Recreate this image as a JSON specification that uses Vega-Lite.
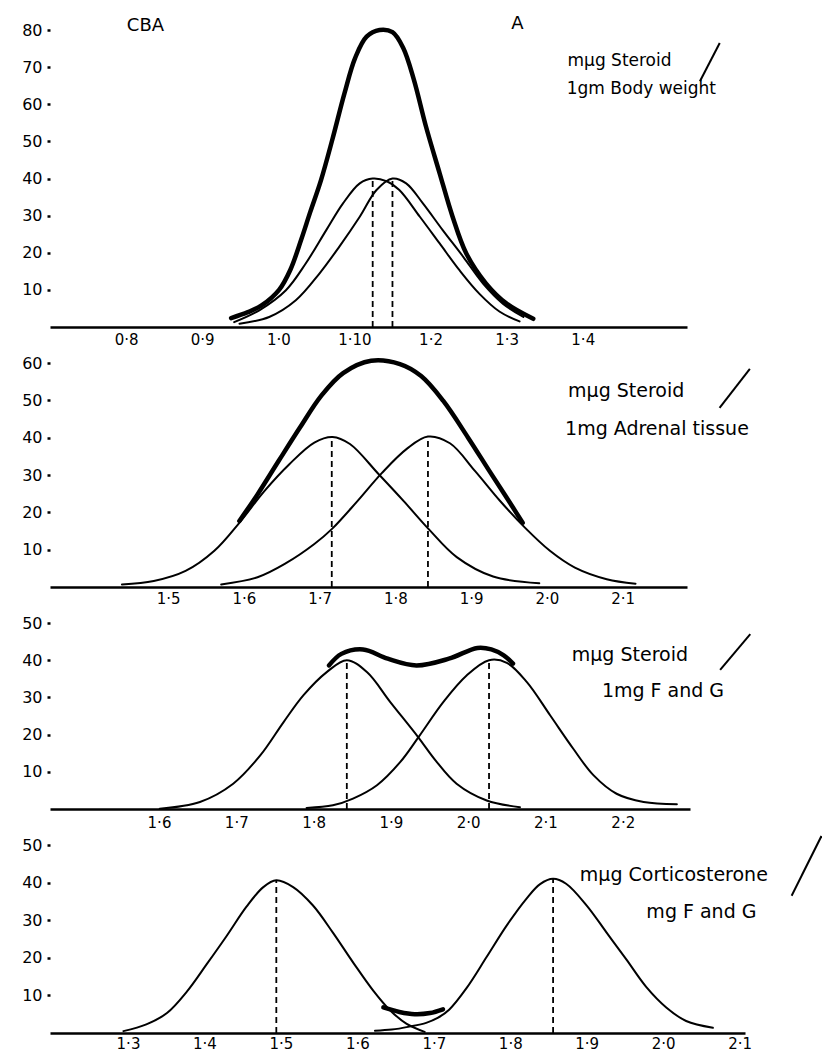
{
  "$schema": "https://vega.github.io/schema/vega-lite/v6.json",
  "padding": {"top": 15, "left": 21, "right": 0, "bottom": 0},
  "background": "white",
  "bounds": "flush",
  "spacing": 36,
  "config": {
    "view": {"stroke": null},
    "font": "DejaVu Sans",
    "axis": {"grid": false, "title": null, "labelColor": "black", "labelFont": "DejaVu Sans"},
    "axisX": {"ticks": false, "domainWidth": 2.5, "domainColor": "black", "labelFontSize": 15, "labelPadding": 6, "labelFlush": false, "labelOverlap": false},
    "axisY": {"domain": false, "ticks": true, "tickSize": 3, "tickWidth": 2.5, "tickColor": "black", "labelFontSize": 16, "labelPadding": 5, "labelOverlap": false}
  },
  "vconcat": [
    {
      "width": 637, "height": 297,
      "encoding": {
        "x": {"field": "x", "type": "quantitative", "scale": {"domain": [0.7, 1.537], "nice": false, "zero": false},
              "axis": {"labelPadding": 5, "values": [0.8, 0.9, 1.0, 1.1, 1.2, 1.3, 1.4], "labelExpr": "abs(datum.value-1.1)<0.001 ? '1·10' : replace(format(datum.value,'.1f'),'.','·')"}},
        "y": {"field": "y", "type": "quantitative", "scale": {"domain": [0, 80], "nice": false},
              "axis": {"values": [10, 20, 30, 40, 50, 60, 70, 80]}}
      },
      "layer": [
        {
          "data": {"values": [
            {"curve": "total", "x": 0.938, "y": 2.4}, {"curve": "total", "x": 0.960, "y": 4.0}, {"curve": "total", "x": 0.978, "y": 5.8}, {"curve": "total", "x": 1.001, "y": 10.0}, {"curve": "total", "x": 1.016, "y": 15.5}, {"curve": "total", "x": 1.030, "y": 23.5}, {"curve": "total", "x": 1.042, "y": 31.0}, {"curve": "total", "x": 1.056, "y": 39.5}, {"curve": "total", "x": 1.071, "y": 50.5}, {"curve": "total", "x": 1.087, "y": 63.0}, {"curve": "total", "x": 1.101, "y": 72.5}, {"curve": "total", "x": 1.116, "y": 78.2}, {"curve": "total", "x": 1.133, "y": 80.0}, {"curve": "total", "x": 1.150, "y": 79.4}, {"curve": "total", "x": 1.164, "y": 75.2}, {"curve": "total", "x": 1.178, "y": 66.7}, {"curve": "total", "x": 1.194, "y": 54.0}, {"curve": "total", "x": 1.212, "y": 41.4}, {"curve": "total", "x": 1.229, "y": 29.7}, {"curve": "total", "x": 1.247, "y": 19.8}, {"curve": "total", "x": 1.273, "y": 11.7}, {"curve": "total", "x": 1.300, "y": 6.3}, {"curve": "total", "x": 1.335, "y": 2.2},
            {"curve": "left", "x": 0.942, "y": 1.3}, {"curve": "left", "x": 0.975, "y": 4.5}, {"curve": "left", "x": 1.010, "y": 9.9}, {"curve": "left", "x": 1.036, "y": 17.1}, {"curve": "left", "x": 1.063, "y": 26.1}, {"curve": "left", "x": 1.085, "y": 33.3}, {"curve": "left", "x": 1.107, "y": 38.7}, {"curve": "left", "x": 1.124, "y": 40.0}, {"curve": "left", "x": 1.142, "y": 39.3}, {"curve": "left", "x": 1.159, "y": 36.9}, {"curve": "left", "x": 1.186, "y": 29.7}, {"curve": "left", "x": 1.212, "y": 22.5}, {"curve": "left", "x": 1.238, "y": 15.3}, {"curve": "left", "x": 1.264, "y": 9.0}, {"curve": "left", "x": 1.291, "y": 4.1}, {"curve": "left", "x": 1.317, "y": 1.5},
            {"curve": "right", "x": 0.949, "y": 0.9}, {"curve": "right", "x": 0.988, "y": 2.7}, {"curve": "right", "x": 1.023, "y": 7.2}, {"curve": "right", "x": 1.054, "y": 14.4}, {"curve": "right", "x": 1.080, "y": 21.6}, {"curve": "right", "x": 1.107, "y": 29.7}, {"curve": "right", "x": 1.129, "y": 36.9}, {"curve": "right", "x": 1.150, "y": 40.0}, {"curve": "right", "x": 1.168, "y": 38.7}, {"curve": "right", "x": 1.190, "y": 33.3}, {"curve": "right", "x": 1.216, "y": 26.1}, {"curve": "right", "x": 1.243, "y": 18.9}, {"curve": "right", "x": 1.269, "y": 11.7}, {"curve": "right", "x": 1.295, "y": 6.3}, {"curve": "right", "x": 1.322, "y": 2.7}
          ]},
          "layer": [
            {"transform": [{"filter": "datum.curve == 'total'"}], "mark": {"type": "line", "interpolate": "catmull-rom", "strokeWidth": 4.5, "color": "black", "strokeCap": "round"}},
            {"transform": [{"filter": "datum.curve != 'total'"}], "mark": {"type": "line", "interpolate": "catmull-rom", "strokeWidth": 2, "color": "black", "strokeCap": "round"}, "encoding": {"detail": {"field": "curve"}}}
          ]
        },
        {
          "data": {"values": [{"x": 1.124, "base": 0, "top": 39.6}, {"x": 1.150, "base": 0, "top": 40.0}]},
          "mark": {"type": "rule", "strokeDash": [6, 4], "strokeWidth": 1.8, "color": "black"},
          "encoding": {"y": {"field": "base", "type": "quantitative"}, "y2": {"field": "top"}}
        },
        {
          "data": {"values": [{"label": "CBA", "x": 0.801, "y": 81.1}, {"label": "A", "x": 1.306, "y": 81.6}]},
          "mark": {"type": "text", "align": "left", "baseline": "middle", "fontSize": 18, "color": "black"},
          "encoding": {"text": {"field": "label"}}
        },
        {
          "data": {"values": [{"label": "mμg  Steroid", "x": 1.380, "y": 71.6}, {"label": "1gm  Body weight", "x": 1.379, "y": 64.0}]},
          "mark": {"type": "text", "align": "left", "baseline": "middle", "fontSize": 17, "color": "black"},
          "encoding": {"text": {"field": "label"}}
        },
        {
          "data": {"values": [{"x": 1.554, "y": 66.2, "xe": 1.580, "ye": 76.5}]},
          "mark": {"type": "rule", "strokeWidth": 2, "color": "black"},
          "encoding": {"x2": {"field": "xe"}, "y2": {"field": "ye"}}
        }
      ]
    },
    {
      "width": 637, "height": 224,
      "encoding": {
        "x": {"field": "x", "type": "quantitative", "scale": {"domain": [1.344, 2.185], "nice": false, "zero": false},
              "axis": {"labelPadding": 4, "values": [1.5, 1.6, 1.7, 1.8, 1.9, 2.0, 2.1], "labelExpr": "replace(format(datum.value,'.1f'),'.','·')"}},
        "y": {"field": "y", "type": "quantitative", "scale": {"domain": [0, 60], "nice": false},
              "axis": {"values": [10, 20, 30, 40, 50, 60]}}
      },
      "layer": [
        {
          "data": {"values": [
            {"curve": "total", "x": 1.594, "y": 17.7}, {"curve": "total", "x": 1.618, "y": 24.8}, {"curve": "total", "x": 1.646, "y": 33.8}, {"curve": "total", "x": 1.674, "y": 42.7}, {"curve": "total", "x": 1.702, "y": 51.2}, {"curve": "total", "x": 1.731, "y": 57.3}, {"curve": "total", "x": 1.768, "y": 60.6}, {"curve": "total", "x": 1.806, "y": 59.7}, {"curve": "total", "x": 1.834, "y": 56.5}, {"curve": "total", "x": 1.863, "y": 49.9}, {"curve": "total", "x": 1.896, "y": 40.0}, {"curve": "total", "x": 1.924, "y": 31.1}, {"curve": "total", "x": 1.947, "y": 23.9}, {"curve": "total", "x": 1.968, "y": 17.2},
            {"curve": "left", "x": 1.439, "y": 0.7}, {"curve": "left", "x": 1.481, "y": 1.6}, {"curve": "left", "x": 1.523, "y": 4.3}, {"curve": "left", "x": 1.561, "y": 9.7}, {"curve": "left", "x": 1.594, "y": 17.2}, {"curve": "left", "x": 1.627, "y": 25.7}, {"curve": "left", "x": 1.660, "y": 32.9}, {"curve": "left", "x": 1.693, "y": 38.7}, {"curve": "left", "x": 1.717, "y": 40.2}, {"curve": "left", "x": 1.740, "y": 38.3}, {"curve": "left", "x": 1.778, "y": 30.2}, {"curve": "left", "x": 1.811, "y": 23.0}, {"curve": "left", "x": 1.844, "y": 15.5}, {"curve": "left", "x": 1.881, "y": 8.0}, {"curve": "left", "x": 1.929, "y": 2.8}, {"curve": "left", "x": 1.990, "y": 1.0},
            {"curve": "right", "x": 1.570, "y": 0.7}, {"curve": "right", "x": 1.618, "y": 2.6}, {"curve": "right", "x": 1.655, "y": 6.3}, {"curve": "right", "x": 1.693, "y": 11.5}, {"curve": "right", "x": 1.716, "y": 15.5}, {"curve": "right", "x": 1.749, "y": 22.8}, {"curve": "right", "x": 1.782, "y": 30.5}, {"curve": "right", "x": 1.815, "y": 37.0}, {"curve": "right", "x": 1.843, "y": 40.3}, {"curve": "right", "x": 1.872, "y": 38.5}, {"curve": "right", "x": 1.905, "y": 31.1}, {"curve": "right", "x": 1.938, "y": 23.1}, {"curve": "right", "x": 1.971, "y": 15.9}, {"curve": "right", "x": 2.004, "y": 9.7}, {"curve": "right", "x": 2.037, "y": 5.2}, {"curve": "right", "x": 2.079, "y": 2.1}, {"curve": "right", "x": 2.117, "y": 0.9}
          ]},
          "layer": [
            {"transform": [{"filter": "datum.curve == 'total'"}], "mark": {"type": "line", "interpolate": "catmull-rom", "strokeWidth": 4.5, "color": "black", "strokeCap": "round"}},
            {"transform": [{"filter": "datum.curve != 'total'"}], "mark": {"type": "line", "interpolate": "catmull-rom", "strokeWidth": 2, "color": "black", "strokeCap": "round"}, "encoding": {"detail": {"field": "curve"}}}
          ]
        },
        {
          "data": {"values": [{"x": 1.716, "base": 0, "top": 40.2}, {"x": 1.843, "base": 0, "top": 40.3}]},
          "mark": {"type": "rule", "strokeDash": [6, 4], "strokeWidth": 1.8, "color": "black"},
          "encoding": {"y": {"field": "base", "type": "quantitative"}, "y2": {"field": "top"}}
        },
        {
          "data": {"values": [{"label": "mμg  Steroid", "x": 2.028, "y": 52.5}, {"label": "1mg  Adrenal  tissue", "x": 2.024, "y": 42.4}]},
          "mark": {"type": "text", "align": "left", "baseline": "middle", "fontSize": 19, "color": "black"},
          "encoding": {"text": {"field": "label"}}
        },
        {
          "data": {"values": [{"x": 2.228, "y": 48.0, "xe": 2.268, "ye": 58.4}]},
          "mark": {"type": "rule", "strokeWidth": 2, "color": "black"},
          "encoding": {"x2": {"field": "xe"}, "y2": {"field": "ye"}}
        }
      ]
    },
    {
      "width": 640, "height": 186,
      "encoding": {
        "x": {"field": "x", "type": "quantitative", "scale": {"domain": [1.459, 2.287], "nice": false, "zero": false},
              "axis": {"labelPadding": 6, "values": [1.6, 1.7, 1.8, 1.9, 2.0, 2.1, 2.2], "labelExpr": "replace(format(datum.value,'.1f'),'.','·')"}},
        "y": {"field": "y", "type": "quantitative", "scale": {"domain": [0, 50], "nice": false},
              "axis": {"values": [10, 20, 30, 40, 50]}}
      },
      "layer": [
        {
          "data": {"values": [
            {"curve": "total", "x": 1.820, "y": 38.6}, {"curve": "total", "x": 1.836, "y": 41.7}, {"curve": "total", "x": 1.864, "y": 42.9}, {"curve": "total", "x": 1.896, "y": 40.4}, {"curve": "total", "x": 1.933, "y": 38.6}, {"curve": "total", "x": 1.975, "y": 40.4}, {"curve": "total", "x": 2.012, "y": 43.3}, {"curve": "total", "x": 2.030, "y": 42.9}, {"curve": "total", "x": 2.046, "y": 41.3}, {"curve": "total", "x": 2.058, "y": 39.1},
            {"curve": "left", "x": 1.601, "y": 0.1}, {"curve": "left", "x": 1.653, "y": 1.9}, {"curve": "left", "x": 1.696, "y": 6.8}, {"curve": "left", "x": 1.731, "y": 14.4}, {"curve": "left", "x": 1.761, "y": 23.3}, {"curve": "left", "x": 1.787, "y": 30.6}, {"curve": "left", "x": 1.817, "y": 36.8}, {"curve": "left", "x": 1.843, "y": 40.0}, {"curve": "left", "x": 1.869, "y": 36.8}, {"curve": "left", "x": 1.899, "y": 28.8}, {"curve": "left", "x": 1.935, "y": 19.4}, {"curve": "left", "x": 1.958, "y": 13.0}, {"curve": "left", "x": 1.985, "y": 6.8}, {"curve": "left", "x": 2.024, "y": 2.3}, {"curve": "left", "x": 2.067, "y": 0.5},
            {"curve": "right", "x": 1.791, "y": 0.3}, {"curve": "right", "x": 1.825, "y": 1.0}, {"curve": "right", "x": 1.851, "y": 2.8}, {"curve": "right", "x": 1.882, "y": 6.4}, {"curve": "right", "x": 1.912, "y": 12.6}, {"curve": "right", "x": 1.936, "y": 19.4}, {"curve": "right", "x": 1.968, "y": 28.8}, {"curve": "right", "x": 1.998, "y": 35.9}, {"curve": "right", "x": 2.027, "y": 40.0}, {"curve": "right", "x": 2.050, "y": 39.3}, {"curve": "right", "x": 2.076, "y": 34.1}, {"curve": "right", "x": 2.106, "y": 25.2}, {"curve": "right", "x": 2.136, "y": 16.2}, {"curve": "right", "x": 2.162, "y": 9.1}, {"curve": "right", "x": 2.192, "y": 4.1}, {"curve": "right", "x": 2.227, "y": 1.9}, {"curve": "right", "x": 2.270, "y": 1.3}
          ]},
          "layer": [
            {"transform": [{"filter": "datum.curve == 'total'"}], "mark": {"type": "line", "interpolate": "catmull-rom", "strokeWidth": 4.5, "color": "black", "strokeCap": "round"}},
            {"transform": [{"filter": "datum.curve != 'total'"}], "mark": {"type": "line", "interpolate": "catmull-rom", "strokeWidth": 2, "color": "black", "strokeCap": "round"}, "encoding": {"detail": {"field": "curve"}}}
          ]
        },
        {
          "data": {"values": [{"x": 1.843, "base": 0, "top": 40.0}, {"x": 2.027, "base": 0, "top": 40.0}]},
          "mark": {"type": "rule", "strokeDash": [6, 4], "strokeWidth": 1.8, "color": "black"},
          "encoding": {"y": {"field": "base", "type": "quantitative"}, "y2": {"field": "top"}}
        },
        {
          "data": {"values": [{"label": "mμg  Steroid", "x": 2.134, "y": 41.4}, {"label": "1mg   F and G", "x": 2.173, "y": 31.7}]},
          "mark": {"type": "text", "align": "left", "baseline": "middle", "fontSize": 19, "color": "black"},
          "encoding": {"text": {"field": "label"}}
        },
        {
          "data": {"values": [{"x": 2.326, "y": 37.4, "xe": 2.365, "ye": 47.0}]},
          "mark": {"type": "rule", "strokeWidth": 2, "color": "black"},
          "encoding": {"x2": {"field": "xe"}, "y2": {"field": "ye"}}
        }
      ]
    },
    {
      "width": 695, "height": 188,
      "encoding": {
        "x": {"field": "x", "type": "quantitative", "scale": {"domain": [1.198, 2.107], "nice": false, "zero": false},
              "axis": {"labelPadding": 3, "values": [1.3, 1.4, 1.5, 1.6, 1.7, 1.8, 1.9, 2.0, 2.1], "labelExpr": "replace(format(datum.value,'.1f'),'.','·')"}},
        "y": {"field": "y", "type": "quantitative", "scale": {"domain": [0, 50], "nice": false},
              "axis": {"values": [10, 20, 30, 40, 50]}}
      },
      "layer": [
        {
          "data": {"values": [
            {"curve": "total", "x": 1.634, "y": 6.8}, {"curve": "total", "x": 1.655, "y": 5.6}, {"curve": "total", "x": 1.675, "y": 5.0}, {"curve": "total", "x": 1.695, "y": 5.3}, {"curve": "total", "x": 1.712, "y": 6.3},
            {"curve": "left", "x": 1.294, "y": 0.5}, {"curve": "left", "x": 1.324, "y": 2.3}, {"curve": "left", "x": 1.351, "y": 5.3}, {"curve": "left", "x": 1.377, "y": 11.0}, {"curve": "left", "x": 1.403, "y": 18.3}, {"curve": "left", "x": 1.429, "y": 25.8}, {"curve": "left", "x": 1.455, "y": 33.6}, {"curve": "left", "x": 1.477, "y": 38.8}, {"curve": "left", "x": 1.494, "y": 40.6}, {"curve": "left", "x": 1.516, "y": 38.8}, {"curve": "left", "x": 1.542, "y": 33.9}, {"curve": "left", "x": 1.568, "y": 26.7}, {"curve": "left", "x": 1.595, "y": 18.6}, {"curve": "left", "x": 1.621, "y": 11.2}, {"curve": "left", "x": 1.642, "y": 6.2}, {"curve": "left", "x": 1.664, "y": 2.5}, {"curve": "left", "x": 1.688, "y": 0.3},
            {"curve": "right", "x": 1.623, "y": 0.6}, {"curve": "right", "x": 1.645, "y": 0.9}, {"curve": "right", "x": 1.668, "y": 1.7}, {"curve": "right", "x": 1.690, "y": 2.7}, {"curve": "right", "x": 1.705, "y": 4.0}, {"curve": "right", "x": 1.720, "y": 6.2}, {"curve": "right", "x": 1.743, "y": 12.0}, {"curve": "right", "x": 1.769, "y": 20.2}, {"curve": "right", "x": 1.795, "y": 28.5}, {"curve": "right", "x": 1.821, "y": 35.7}, {"curve": "right", "x": 1.839, "y": 39.6}, {"curve": "right", "x": 1.856, "y": 41.0}, {"curve": "right", "x": 1.873, "y": 39.7}, {"curve": "right", "x": 1.900, "y": 33.9}, {"curve": "right", "x": 1.926, "y": 26.7}, {"curve": "right", "x": 1.952, "y": 19.5}, {"curve": "right", "x": 1.978, "y": 12.2}, {"curve": "right", "x": 2.004, "y": 6.8}, {"curve": "right", "x": 2.030, "y": 3.2}, {"curve": "right", "x": 2.065, "y": 1.4}
          ]},
          "layer": [
            {"transform": [{"filter": "datum.curve == 'total'"}], "mark": {"type": "line", "interpolate": "catmull-rom", "strokeWidth": 4.5, "color": "black", "strokeCap": "round"}},
            {"transform": [{"filter": "datum.curve != 'total'"}], "mark": {"type": "line", "interpolate": "catmull-rom", "strokeWidth": 2, "color": "black", "strokeCap": "round"}, "encoding": {"detail": {"field": "curve"}}}
          ]
        },
        {
          "data": {"values": [{"x": 1.494, "base": 0, "top": 40.6}, {"x": 1.856, "base": 0, "top": 41.0}]},
          "mark": {"type": "rule", "strokeDash": [6, 4], "strokeWidth": 1.8, "color": "black"},
          "encoding": {"y": {"field": "base", "type": "quantitative"}, "y2": {"field": "top"}}
        },
        {
          "data": {"values": [{"label": "mμg  Corticosterone", "x": 1.891, "y": 41.9}, {"label": "mg  F and G", "x": 1.978, "y": 32.2}]},
          "mark": {"type": "text", "align": "left", "baseline": "middle", "fontSize": 19, "color": "black"},
          "encoding": {"text": {"field": "label"}}
        },
        {
          "data": {"values": [{"x": 2.168, "y": 36.5, "xe": 2.207, "ye": 52.4}]},
          "mark": {"type": "rule", "strokeWidth": 2, "color": "black"},
          "encoding": {"x2": {"field": "xe"}, "y2": {"field": "ye"}}
        }
      ]
    }
  ]
}
